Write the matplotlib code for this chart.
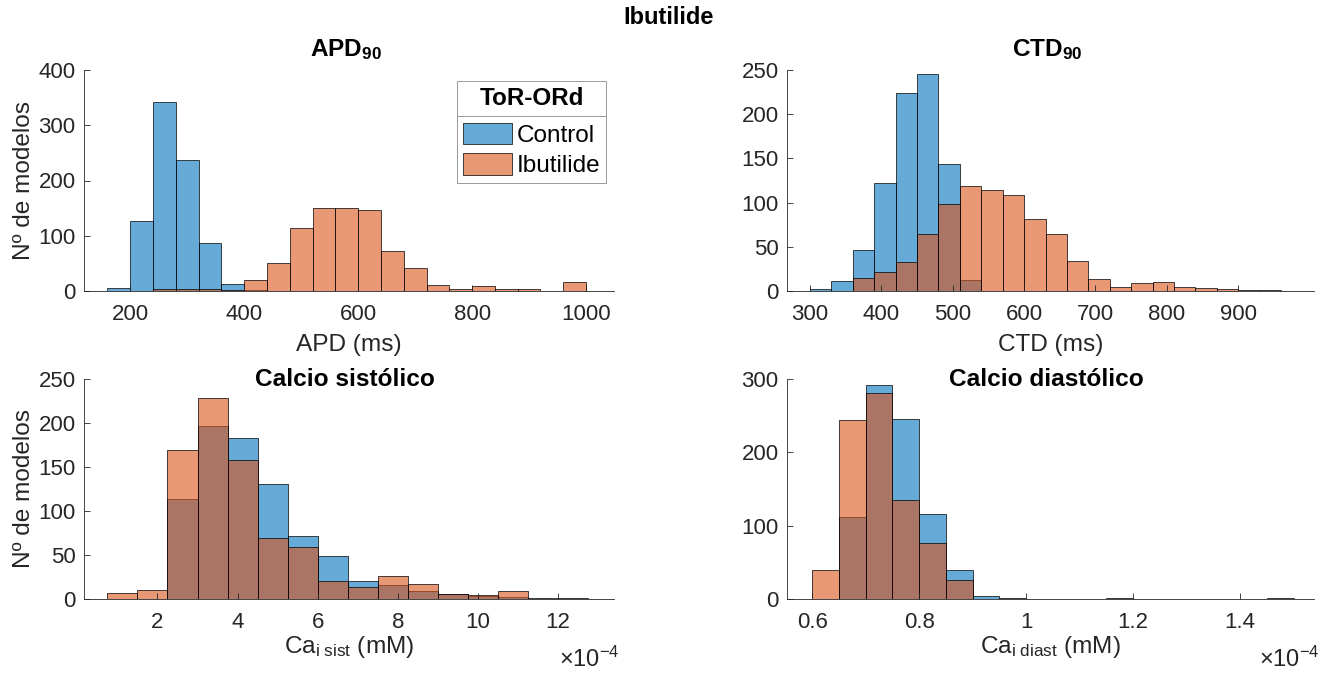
import numpy as np
import matplotlib
matplotlib.use("Agg")
import matplotlib.pyplot as plt
from matplotlib.ticker import FixedLocator, FuncFormatter
from matplotlib.lines import Line2D

plt.rcParams['font.family'] = ['Liberation Sans', 'DejaVu Sans']
plt.rcParams['mathtext.fontset'] = 'custom'
plt.rcParams['mathtext.rm'] = 'Liberation Sans'
plt.rcParams['mathtext.bf'] = 'Liberation Sans:bold'
plt.rcParams['mathtext.it'] = 'Liberation Sans:italic'

# ---------------- data: histogram counts per bin ----------------
# APD90 (ms): bins of 40 ms starting at 160 ms
apd_start, apd_width = 160, 40
apd_control = [5, 126, 342, 237, 86, 12, 1, 0, 0, 0, 0, 0, 0, 0, 0, 0, 0, 0, 0, 0, 0]
apd_ibutilide = [0, 0, 3, 3, 3, 2, 20, 50, 114, 150, 150, 147, 73, 41, 10, 4, 9, 3, 3, 0, 16]

# CTD90 (ms): bins of 30 ms starting at 300 ms
ctd_start, ctd_width = 300, 30
ctd_control = [2, 11, 46, 122, 224, 246, 144, 13, 0, 0, 0, 0, 0, 0, 0, 0, 0, 0, 0, 0, 0, 0]
ctd_ibutilide = [0, 0, 15, 21, 33, 65, 98, 119, 114, 109, 81, 64, 34, 14, 5, 9, 10, 4, 3, 2, 1, 1]

# Systolic Ca (mM): bins of 0.75e-4 mM starting at 0.75e-4 mM
sist_start, sist_width = 0.75e-4, 0.75e-4
sist_control = [0, 0, 114, 197, 183, 131, 72, 49, 20, 16, 9, 6, 3, 2, 1, 1]
sist_ibutilide = [7, 10, 169, 228, 158, 69, 59, 21, 14, 26, 17, 6, 4, 9, 0, 0]

# Diastolic Ca (mM): bins of 0.05e-4 mM starting at 0.6e-4 mM
diast_start, diast_width = 0.60e-4, 0.05e-4
diast_control = [0, 112, 292, 246, 116, 39, 4, 1, 0, 0, 0, 1, 0, 0, 0, 0, 0, 1]
diast_ibutilide = [39, 244, 281, 135, 77, 26, 0, 0, 0, 0, 0, 0, 0, 0, 0, 0, 0, 0]

series_labels = ['Control', 'Ibutilide']
legend_title = 'ToR-ORd'

apd_ticks = [200, 400, 600, 800, 1000]
ctd_ticks = [300, 400, 500, 600, 700, 800, 900]
sist_ticks = [2e-4, 4e-4, 6e-4, 8e-4, 10e-4, 12e-4]
diast_ticks = [0.6e-4, 0.8e-4, 1.0e-4, 1.2e-4, 1.4e-4]

# ---------------- style ----------------
BLUE = (0.0, 0.447, 0.741)
ORANGE = (0.85, 0.325, 0.098)
AX_COLOR = '#262626'
TICK_FS = 16
LABEL_FS = 17.6

W, H = 1338, 675
fig = plt.figure(figsize=(W / 100, H / 100), dpi=100)
fig.patch.set_facecolor('white')


def px_axes(x0, x1, y0, y1):
    return fig.add_axes([x0 / W, 1 - y1 / H, (x1 - x0) / W, (y1 - y0) / H])


LEFT = (84, 614)
RIGHT = (787, 1314)
TOP = (70, 291)
BOTTOM = (379, 599)

ax_apd = px_axes(*LEFT, *TOP)
ax_ctd = px_axes(*RIGHT, *TOP)
ax_sist = px_axes(*LEFT, *BOTTOM)
ax_diast = px_axes(*RIGHT, *BOTTOM)


def edges_for(start, width, counts):
    return start + width * np.arange(len(counts) + 1)


def draw_hist(ax, start, width, counts, color):
    edges = edges_for(start, width, counts)
    return ax.bar(edges[:-1], counts, width=np.diff(edges), align='edge',
                  facecolor=(*color, 0.6), edgecolor='black', linewidth=0.5)


def style_axes(ax, xlim, ylim, xticks, yticks):
    ax.set_xlim(*xlim)
    ax.set_ylim(*ylim)
    ax.xaxis.set_major_locator(FixedLocator(xticks))
    ax.yaxis.set_major_locator(FixedLocator(yticks))
    for s in ('top', 'right'):
        ax.spines[s].set_visible(False)
    for s in ('left', 'bottom'):
        ax.spines[s].set_color(AX_COLOR)
        ax.spines[s].set_linewidth(0.6)
    ax.tick_params(direction='in', length=4, width=0.6, color=AX_COLOR,
                   labelcolor=AX_COLOR, labelsize=TICK_FS, pad=9)
    ax.tick_params(axis='y', pad=6)


panels = [
    (ax_apd, apd_start, apd_width, apd_control, apd_ibutilide),
    (ax_ctd, ctd_start, ctd_width, ctd_control, ctd_ibutilide),
    (ax_sist, sist_start, sist_width, sist_control, sist_ibutilide),
    (ax_diast, diast_start, diast_width, diast_control, diast_ibutilide),
]
handles = None
for ax, start, width, c_ctrl, c_ibu in panels:
    h1 = draw_hist(ax, start, width, c_ctrl, BLUE)
    h2 = draw_hist(ax, start, width, c_ibu, ORANGE)
    if handles is None:
        handles = (h1, h2)

style_axes(ax_apd, (119, 1049), (0, 400), apd_ticks, [0, 100, 200, 300, 400])
style_axes(ax_ctd, (268, 1006), (0, 250), ctd_ticks, [0, 50, 100, 150, 200, 250])
style_axes(ax_sist, (0.165e-4, 13.40e-4), (0, 250), sist_ticks, [0, 50, 100, 150, 200, 250])
style_axes(ax_diast, (0.553e-4, 1.538e-4), (0, 300), diast_ticks, [0, 100, 200, 300])

scaled = FuncFormatter(lambda v, p: f'{v * 1e4:g}')
for ax in (ax_sist, ax_diast):
    ax.xaxis.set_major_formatter(scaled)
    x_right = 1.0 + 6 / (LEFT[1] - LEFT[0])
    ax.text(x_right, -(659 - 599) / 220, r'$\times$10$^{-4}$', transform=ax.transAxes,
            ha='right', va='center', fontsize=17, color=AX_COLOR)

ax_apd.set_xlabel('APD (ms)', fontsize=LABEL_FS, color=AX_COLOR, labelpad=7)
ax_ctd.set_xlabel('CTD (ms)', fontsize=LABEL_FS, color=AX_COLOR, labelpad=7)
ax_sist.set_xlabel(r'Ca$_{\mathrm{i\ sist}}$ (mM)', fontsize=LABEL_FS, color=AX_COLOR, labelpad=1)
ax_diast.set_xlabel(r'Ca$_{\mathrm{i\ diast}}$ (mM)', fontsize=LABEL_FS, color=AX_COLOR, labelpad=1)
for ax in (ax_apd, ax_sist):
    ax.set_ylabel('Nº de modelos', fontsize=LABEL_FS, color=AX_COLOR)
    ax.yaxis.set_label_coords(-(LEFT[0] - 35) / (LEFT[1] - LEFT[0]), 0.5)


# panel titles
def panel_title(ax, text, y_px, dx_px=0):
    pos = ax.get_position()
    fig.text(pos.x0 + pos.width / 2 + dx_px / W, 1 - y_px / H, text, ha='center',
             va='center', fontsize=LABEL_FS, fontweight='bold', color='black')


panel_title(ax_apd, r'APD$_{\mathbf{90}}$', 50, -3)
panel_title(ax_ctd, r'CTD$_{\mathbf{90}}$', 50, -3)
panel_title(ax_sist, 'Calcio sistólico', 380, -4)
panel_title(ax_diast, 'Calcio diastólico', 380, -4)

fig.text(0.5, 1 - 18 / H, 'Ibutilide', ha='center', va='center', fontsize=17,
         fontweight='bold', color='black')

# legend with a boxed title section
leg_w = LEFT[1] - LEFT[0]
leg_h = TOP[1] - TOP[0]
leg = ax_apd.legend(handles, series_labels, title=legend_title, loc='upper right',
                    bbox_to_anchor=(1 - 8 / leg_w, 1 - 11 / leg_h), borderaxespad=0,
                    fontsize=17.5, title_fontsize=17.5, handlelength=2.0,
                    handleheight=1.0, handletextpad=0.18, labelspacing=0.25,
                    borderpad=0.25, fancybox=False, framealpha=1, edgecolor='#9a9a9a')
leg.get_frame().set_linewidth(0.7)
leg.get_title().set_fontweight('bold')
leg._legend_box.sep = 9
for t in leg.get_texts():
    t.set_color('black')

fig.canvas.draw()
renderer = fig.canvas.get_renderer()
lb = leg.get_window_extent(renderer)
tb = leg.get_title().get_window_extent(renderer)
pb = leg.get_patches()[0].get_window_extent(renderer)
y_sep = (tb.y0 + pb.y1) / 2
inv = fig.transFigure.inverted()
(fx0, fy), (fx1, _) = inv.transform([(lb.x0, y_sep), (lb.x1, y_sep)])
fig.add_artist(Line2D([fx0, fx1], [fy, fy], transform=fig.transFigure,
                      color='#9a9a9a', linewidth=0.7))

fig.savefig('out.png', dpi=100)
